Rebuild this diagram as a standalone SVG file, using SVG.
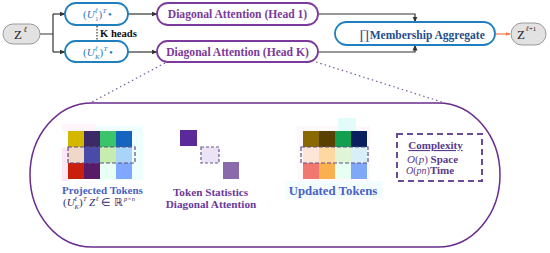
<svg xmlns="http://www.w3.org/2000/svg" width="550" height="253" viewBox="0 0 550 253">
<defs>
<marker id="ah" markerUnits="userSpaceOnUse" markerWidth="6" markerHeight="6" refX="5.5" refY="3" orient="auto"><path d="M0,0.5 L6,3 L0,5.5 z" fill="#333"/></marker>
<marker id="ao" markerUnits="userSpaceOnUse" markerWidth="5" markerHeight="5" refX="4.5" refY="2.5" orient="auto"><path d="M0,0.5 L5,2.5 L0,4.5 z" fill="#f07a40"/></marker>
<marker id="at" markerUnits="userSpaceOnUse" markerWidth="4" markerHeight="4" refX="3.5" refY="2" orient="auto"><path d="M0,0.5 L4,2 L0,3.5 z" fill="#c8a850"/></marker>
</defs>
<style>
.sr{font-family:"Liberation Serif","Times New Roman",serif}
.b{font-weight:bold}
.it{font-style:italic}
.blue{stroke:#1f7fbf;stroke-width:1.8;fill:#fff}
.purp{stroke:#7b3a9c;stroke-width:1.8;fill:#fff}
.gray{stroke:#9a9a9a;stroke-width:1;fill:#e2e2e2}
.conn{stroke:#333;stroke-width:1.2;fill:none}
.ut{fill:#2a7ab8}
.pt{fill:#7a3a9a}
.dash{fill:none;stroke:#5e4e86;stroke-width:1.2;stroke-dasharray:4 2}
</style>

<g id="connectors">
<path class="conn" d="M40 34 H53 M53 14 V52"/>
<path class="conn" d="M53 14 H65" marker-end="url(#ah)"/>
<path class="conn" d="M53 52 H65" marker-end="url(#ah)"/>
<path class="conn" d="M128 14 H157" marker-end="url(#ah)"/>
<path class="conn" d="M128 52 H157" marker-end="url(#ah)"/>
<path class="conn" d="M318 14 H415 V22" marker-end="url(#ah)"/>
<path class="conn" d="M318 52 H415 V45" marker-end="url(#ah)"/>
<path d="M495 34 H510" stroke="#f07a40" stroke-width="1.2" fill="none" marker-end="url(#ao)"/>
<path d="M97 26 V41" stroke="#333" stroke-width="1.2" stroke-dasharray="1.5 1.5" fill="none"/>
<path d="M165 63 L90 103 M316 62 L445 103" stroke="#7a5a9a" stroke-width="1.2" stroke-dasharray="1.5 3" fill="none"/>
<path d="M135 155 H200" stroke="#d8c078" stroke-width="1" fill="none" marker-end="url(#at)"/>
<path d="M219 155 H301" stroke="#d8c078" stroke-width="1" fill="none" marker-end="url(#at)"/>
</g>

<g id="z-in">
<rect class="gray" x="3" y="24" width="37" height="20" rx="10"/>
<text class="sr" x="14" y="39" font-size="13" fill="#222">Z</text>
<text class="sr it" x="23.5" y="32" font-size="8" fill="#222">ℓ</text>
</g>

<g id="proj-1">
<rect class="blue" x="65" y="3" width="63" height="22" rx="11"/>
<text class="sr ut" x="83" y="18" font-size="11">(<tspan class="it">U</tspan></text>
<text class="sr ut it" x="95" y="13" font-size="7">ℓ</text>
<text class="sr ut" x="95" y="21" font-size="7">1</text>
<text class="sr ut" x="98.5" y="18" font-size="11">)</text>
<text class="sr ut it" x="102.5" y="13" font-size="7">T</text>
<text class="sr ut" x="108" y="18" font-size="11">•</text>
</g>

<g id="proj-k">
<rect class="blue" x="65" y="41" width="63" height="21" rx="10.5"/>
<text class="sr ut" x="83" y="56" font-size="11">(<tspan class="it">U</tspan></text>
<text class="sr ut it" x="95" y="51" font-size="7">ℓ</text>
<text class="sr ut it" x="95" y="59" font-size="7">K</text>
<text class="sr ut" x="99.5" y="56" font-size="11">)</text>
<text class="sr ut it" x="103.5" y="51" font-size="7">T</text>
<text class="sr ut" x="109" y="56" font-size="11">•</text>
</g>

<g id="k-heads">
<text class="sr b" x="100" y="37" font-size="10.6" fill="#111">K heads</text>
</g>

<g id="head-1">
<rect class="purp" x="157" y="3" width="161" height="22" rx="11"/>
<text class="sr b pt" x="237.5" y="18" font-size="11.6" text-anchor="middle">Diagonal Attention (Head 1)</text>
</g>

<g id="head-k">
<rect class="purp" x="157" y="41" width="161" height="21" rx="10.5"/>
<text class="sr b pt" x="237.5" y="56" font-size="11.6" text-anchor="middle">Diagonal Attention (Head K)</text>
</g>

<g id="aggregate">
<rect class="blue" x="335" y="22" width="160" height="23" rx="11.5"/>
<text class="sr b" x="359" y="38.5" font-size="11.5" fill="#1f4e8a"><tspan font-weight="normal" font-size="13">∏</tspan>Membership Aggregate</text>
</g>

<g id="z-out">
<rect class="gray" x="511" y="23" width="35" height="22" rx="11"/>
<text class="sr" x="517" y="39" font-size="13" fill="#222">Z</text>
<text class="sr" x="526" y="31" font-size="7" fill="#222"><tspan class="it">ℓ</tspan>+1</text>
</g>

<g id="detail">
<rect x="30" y="103" width="470" height="144" rx="62" ry="72" fill="#fff" stroke="#6a2c8e" stroke-width="1.5"/>
</g>

<g id="projected-tokens">
<rect x="62" y="124" width="34" height="7" fill="#fef4fa"/>
<rect x="62" y="148" width="7" height="33" fill="#fde6f6"/>
<rect x="96" y="126" width="47" height="54" fill="#effefe"/>
<rect x="68" y="131" width="16" height="16" fill="#d4b800"/>
<rect x="84" y="131" width="16" height="16" fill="#3b2a66"/>
<rect x="100" y="131" width="16" height="16" fill="#3cc46a"/>
<rect x="116" y="131" width="16" height="16" fill="#1565c0"/>
<rect x="68" y="147" width="16" height="16" fill="#f0d8c8"/>
<rect x="84" y="147" width="16" height="16" fill="#4a4aa8"/>
<rect x="100" y="147" width="16" height="16" fill="#c8ecb0"/>
<rect x="116" y="147" width="16" height="16" fill="#a8d4f8"/>
<rect x="68" y="163" width="16" height="16" fill="#c8200c"/>
<rect x="84" y="163" width="16" height="16" fill="#5a1a6a"/>
<rect x="100" y="163" width="16" height="16" fill="#e8fff4"/>
<rect x="116" y="163" width="16" height="16" fill="#80a8ff"/>
<rect class="dash" x="68" y="147" width="67" height="16"/>
<text class="sr b" x="102.5" y="194" font-size="11" fill="#4a62c4" text-anchor="middle">Projected Tokens</text>
<text class="sr" x="63" y="206" font-size="11" fill="#2c2c6c">(<tspan class="it">U</tspan></text>
<text class="sr it" x="74.5" y="201" font-size="6.5" fill="#2c2c6c">ℓ</text>
<text class="sr it" x="74.5" y="209" font-size="6.5" fill="#2c2c6c">K</text>
<text class="sr" x="79" y="206" font-size="11" fill="#2c2c6c">)</text>
<text class="sr it" x="83" y="201" font-size="6.5" fill="#2c2c6c">T</text>
<text class="sr it" x="89" y="206" font-size="11" fill="#2c2c6c">Z</text>
<text class="sr it" x="96" y="201" font-size="6.5" fill="#2c2c6c">ℓ</text>
<text class="sr" x="101" y="206" font-size="11" fill="#2c2c6c">∈ ℝ</text>
<text class="sr it" x="124" y="201" font-size="6.5" fill="#2c2c6c">p×n</text>
</g>

<g id="token-statistics">
<rect x="180" y="130" width="17" height="16" fill="#5b2a9a"/>
<rect x="201" y="147" width="18" height="16" fill="#ece4f4" stroke="#6a5a8a" stroke-width="1.2" stroke-dasharray="3 2"/>
<rect x="223" y="162" width="16" height="17" fill="#8a6aaa"/>
<text class="sr b" x="210.5" y="196" font-size="11.2" fill="#6a3a9a" text-anchor="middle">Token Statistics</text>
<text class="sr b" x="211" y="207.5" font-size="11.2" fill="#6a3a9a" text-anchor="middle">Diagonal Attention</text>
</g>

<g id="updated-tokens">
<rect x="297" y="126" width="73" height="56" fill="#fff8fb"/>
<rect x="338" y="118" width="18" height="13" fill="#e2fcfa"/>
<rect x="285" y="181" width="98" height="18" fill="#f4fdfd"/>
<rect x="303" y="131" width="16" height="16" fill="#8a6a00"/>
<rect x="319" y="131" width="16" height="16" fill="#5a4000"/>
<rect x="335" y="131" width="16" height="16" fill="#12a050"/>
<rect x="351" y="131" width="16" height="16" fill="#0a1e60"/>
<rect x="303" y="147" width="16" height="16" fill="#fde6d8"/>
<rect x="319" y="147" width="16" height="16" fill="#fdd8a0"/>
<rect x="335" y="147" width="16" height="16" fill="#e0f4d8"/>
<rect x="351" y="147" width="16" height="16" fill="#d8eef8"/>
<rect x="303" y="163" width="16" height="16" fill="#f07870"/>
<rect x="319" y="163" width="16" height="16" fill="#f8b050"/>
<rect x="335" y="163" width="16" height="16" fill="#e8fff4"/>
<rect x="351" y="163" width="16" height="16" fill="#80a8f8"/>
<rect class="dash" x="301" y="147" width="67" height="16"/>
<text class="sr b" x="333" y="194.5" font-size="12.8" fill="#4a62c4" text-anchor="middle">Updated Tokens</text>
</g>

<g id="complexity">
<rect x="397" y="134" width="85" height="47" fill="none" stroke="#6a4a9a" stroke-width="2" stroke-dasharray="6 4"/>
<text class="sr b" x="435.5" y="149" font-size="11" fill="#5a3a8c" text-anchor="middle" text-decoration="underline">Complexity</text>
<text class="sr" x="407" y="163" font-size="11" fill="#5a3a8c"><tspan class="it">O</tspan>(<tspan class="it">p</tspan>) <tspan class="b">Space</tspan></text>
<text class="sr" x="406" y="174" font-size="10" fill="#5a3a8c"><tspan class="it">O</tspan>(<tspan class="it">pn</tspan>)<tspan class="b" font-size="11">Time</tspan></text>
</g>
</svg>
